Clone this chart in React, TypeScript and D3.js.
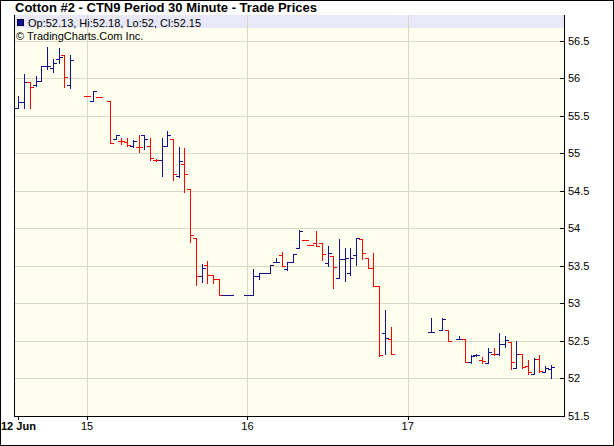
import * as d3 from 'd3';

// 30 minute bars, index = bar slot on the session axis (gaps = no trades)
const barIdx = [0, 1, 2, 3, 4, 5, 6, 7, 8, 9, 12, 13, 14, 16, 17, 18, 19, 20, 21, 22, 23, 24, 25, 26, 27, 28, 29, 30, 31, 32, 33, 34, 35, 36, 37, 40, 41, 42, 43, 44, 45, 46, 47, 48, 49, 50, 51, 52, 53, 54, 55, 56, 57, 58, 59, 60, 61, 62, 63, 64, 65, 72, 74, 75, 77, 78, 79, 80, 81, 82, 83, 84, 85, 86, 87, 88, 89, 90, 91, 92, 93];
const opens = [55.61, 55.68, 55.95, 55.91, 55.97, 56.17, 56.14, 56.26, 56.31, 55.91, 55.76, 55.7, 55.75, 55.7, 55.19, 55.17, 55.15, 55.1, 55.08, 55.25, 55.1, 54.91, 54.91, 55.1, 55.19, 54.7, 54.86, 54.52, 53.87, 53.37, 53.51, 53.38, 53.32, 53.11, 53.11, 53.11, 53.11, 53.36, 53.4, 53.4, 53.55, 53.65, 53.46, 53.55, 53.74, 53.85, 53.78, 53.8, 53.8, 53.54, 53.63, 53.34, 53.59, 53.41, 53.65, 53.86, 53.61, 53.47, 53.23, 52.6, 52.53, 52.62, 52.64, 52.64, 52.52, 52.52, 52.22, 52.31, 52.24, 52.21, 52.33, 52.33, 52.46, 52.49, 52.14, 52.33, 52.16, 52.06, 52.26, 52.09, 52.13];
const highs = [55.77, 56.06, 55.95, 56.03, 56.17, 56.42, 56.26, 56.4, 56.31, 56.31, 55.76, 55.83, 55.75, 55.7, 55.25, 55.2, 55.2, 55.18, 55.25, 55.25, 55.2, 54.93, 55.2, 55.3, 55.19, 55.08, 55.07, 54.52, 53.87, 53.52, 53.57, 53.38, 53.33, 53.11, 53.11, 53.11, 53.46, 53.4, 53.4, 53.51, 53.6, 53.68, 53.55, 53.66, 53.98, 53.85, 53.78, 53.96, 53.8, 53.77, 53.63, 53.86, 53.74, 53.74, 53.87, 53.86, 53.61, 53.67, 53.23, 52.91, 52.68, 52.8, 52.8, 52.64, 52.56, 52.52, 52.31, 52.32, 52.28, 52.4, 52.4, 52.6, 52.57, 52.49, 52.5, 52.33, 52.25, 52.27, 52.31, 52.16, 52.18];
const lows = [55.6, 55.6, 55.6, 55.9, 55.96, 56.12, 56.09, 56.2, 55.88, 55.87, 55.76, 55.7, 55.75, 55.14, 55.19, 55.12, 55.1, 55.09, 55.02, 55.06, 54.91, 54.9, 54.7, 55.1, 54.64, 54.69, 54.48, 53.82, 53.25, 53.28, 53.27, 53.27, 53.11, 53.11, 53.11, 53.11, 53.11, 53.33, 53.4, 53.4, 53.55, 53.5, 53.45, 53.55, 53.74, 53.85, 53.78, 53.77, 53.58, 53.5, 53.2, 53.34, 53.3, 53.38, 53.51, 53.59, 53.47, 53.23, 52.3, 52.33, 52.33, 52.62, 52.64, 52.5, 52.52, 52.22, 52.21, 52.3, 52.21, 52.2, 52.31, 52.31, 52.42, 52.12, 52.14, 52.14, 52.06, 52.06, 52.09, 52.08, 52.0];
const closes = [55.68, 55.95, 55.88, 55.97, 56.17, 56.17, 56.2, 56.28, 56.02, 56.24, 55.76, 55.83, 55.75, 55.14, 55.25, 55.16, 55.11, 55.16, 55.08, 55.19, 54.94, 54.91, 55.1, 55.25, 54.72, 54.9, 54.72, 53.91, 53.37, 53.47, 53.38, 53.32, 53.11, 53.11, 53.11, 53.11, 53.36, 53.4, 53.4, 53.51, 53.55, 53.5, 53.55, 53.66, 53.97, 53.85, 53.78, 53.77, 53.66, 53.67, 53.48, 53.59, 53.6, 53.61, 53.87, 53.67, 53.47, 53.23, 52.31, 52.54, 52.33, 52.62, 52.79, 52.5, 52.52, 52.22, 52.3, 52.31, 52.23, 52.35, 52.33, 52.46, 52.51, 52.22, 52.33, 52.15, 52.09, 52.26, 52.1, 52.14, 52.15];

const dayTicks = [0, 12, 40, 68];
const dayLabels = ['12 Jun', '15', '16', '17'];
const priceTicks = [51.5, 52, 52.5, 53, 53.5, 54, 54.5, 55, 55.5, 56, 56.5];

const title = 'Cotton #2 - CTN9 Period 30 Minute - Trade Prices';
const legendText = 'Op:52.13, Hi:52.18, Lo:52, Cl:52.15';
const credit = '\u00a9 TradingCharts.Com Inc.';

const W = 614;
const H = 446;
const plot = { left: 15, right: 564, top: 15, bottom: 416 };
const UP = '#12128f';
const DOWN = '#ff0000';
const FONT = '"Liberation Sans", Arial, sans-serif';

export default function App() {
  const x = d3.scaleLinear().domain([-0.6, 95.3]).range([plot.left, plot.right]);
  const y = d3.scaleLinear().domain([51.5, 56.844]).range([plot.bottom, plot.top]);
  const px = (v: number) => Math.round(v) + 0.5;

  return (
    <svg
      width={W}
      height={H}
      style={{ position: 'absolute', left: 0, top: 0, fontFamily: FONT }}
    >
      <rect x={0} y={0} width={W} height={H} fill="#fff" />
      <rect x={0.5} y={0.5} width={W - 1} height={H - 1} fill="none" stroke="#000" />

      <text x={15} y={12} fontSize={13} fontWeight="bold" fill="#000">
        {title}
      </text>

      {/* plot background */}
      <rect
        x={plot.left}
        y={plot.top}
        width={plot.right - plot.left}
        height={plot.bottom - plot.top}
        fill="#ffffef"
      />
      <rect x={plot.left} y={plot.top} width={plot.right - plot.left} height={13} fill="#e8e8f8" />

      {/* grid */}
      <g shapeRendering="crispEdges" stroke="#d8d8c8">
        {priceTicks.slice(1).map(t => (
          <line key={t} x1={plot.left} x2={plot.right} y1={px(y(t))} y2={px(y(t))} />
        ))}
        {dayTicks.slice(1).map(t => (
          <line key={t} x1={px(x(t))} x2={px(x(t))} y1={plot.top} y2={plot.bottom} />
        ))}
      </g>

      {/* legend */}
      <rect x={17.5} y={19.5} width={6} height={6} fill={UP} stroke="#000040" />
      <text x={28} y={27} fontSize={11} fill="#000">
        {legendText}
      </text>
      <text x={16} y={39.5} fontSize={11} fill="#000">
        {credit}
      </text>

      {/* OHLC bars */}
      <g shapeRendering="crispEdges">
        {barIdx.map((b, k) => {
          const cx = px(x(b));
          const col = k === 0 || closes[k] >= closes[k - 1] ? UP : DOWN;
          return (
            <g key={b} stroke={col}>
              <line x1={cx} x2={cx} y1={y(highs[k])} y2={y(lows[k]) + 1} strokeWidth={1.6} />
              <line x1={cx - 3.5} x2={cx} y1={px(y(opens[k]))} y2={px(y(opens[k]))} strokeWidth={1} />
              <line x1={cx} x2={cx + 3.5} y1={px(y(closes[k]))} y2={px(y(closes[k]))} strokeWidth={1} />
            </g>
          );
        })}
      </g>

      {/* axes */}
      <g shapeRendering="crispEdges" stroke="#000">
        <line x1={plot.left - 0.5} x2={plot.left - 0.5} y1={plot.top} y2={plot.bottom + 1} />
        <line x1={plot.right + 0.5} x2={plot.right + 0.5} y1={plot.top} y2={plot.bottom + 1} />
        <line x1={plot.left - 1} x2={plot.right + 1} y1={plot.bottom + 0.5} y2={plot.bottom + 0.5} />
        {priceTicks.map(t => (
          <line key={t} x1={plot.right - 4} x2={plot.right + 1} y1={px(y(t))} y2={px(y(t))} />
        ))}
        {dayTicks.map(t => (
          <line key={t} x1={px(x(t))} x2={px(x(t))} y1={plot.bottom} y2={plot.bottom + 4} />
        ))}
      </g>

      <g fontSize={11} fill="#000">
        {priceTicks.map(t => (
          <text key={t} x={plot.right + 4} y={y(t) + 4}>
            {t}
          </text>
        ))}
        {dayTicks.map((t, i) => (
          <text
            key={t}
            x={x(t)}
            y={plot.bottom + 14}
            textAnchor="middle"
            fontWeight={i === 0 ? 'bold' : 'normal'}
          >
            {dayLabels[i]}
          </text>
        ))}
      </g>
    </svg>
  );
}
